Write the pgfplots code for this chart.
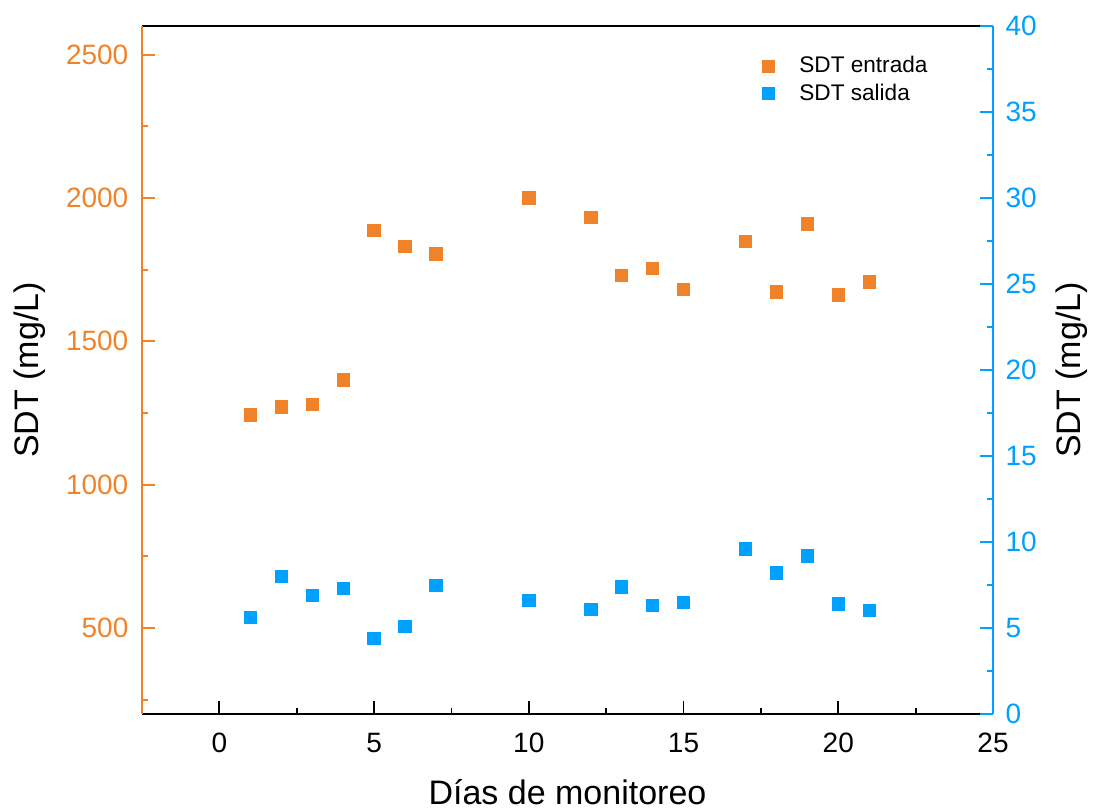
\documentclass[border=0pt]{standalone}
\usepackage{fontspec}
\setmainfont{Liberation Sans}
\usepackage{pgfplots}
\usepackage{pgfplotstable}
\pgfplotsset{compat=1.18}
\definecolor{sdtin}{RGB}{240,131,42}
\definecolor{sdtout}{RGB}{0,160,255}

% dia, SDT entrada (mg/L), SDT salida (mg/L)
\pgfplotstableread{
dia entrada salida
1  1244 5.60
2  1272 8.01
3  1281 6.88
4  1366 7.29
5  1888 4.38
6  1832 5.09
7  1805 7.49
10 2000 6.61
12 1933 6.09
13 1729 7.39
14 1755 6.30
15 1682 6.49
17 1848 9.61
18 1673 8.21
19 1909 9.20
20 1662 6.40
21 1707 6.01
}\sdtdata

\pgfplotsset{
  sdtaxis/.style={
    width=425.5pt, height=344pt, scale only axis,
    xmin=-2.5, xmax=25,
    /pgf/number format/assume math mode=true,
    /pgf/number format/1000 sep={},
    scaled y ticks=false,
    tick label style={font=\fontsize{14}{16}\selectfont},
    label style={font=\fontsize{17}{20}\selectfont},
    tick align=inside,
    major tick length=6.5pt, minor tick length=3.2pt,
  },
}

\begin{document}
\begin{tikzpicture}
\begin{axis}[
  sdtaxis,
  axis x line*=box, axis y line*=left,
  xtick pos=bottom,
  xtick={0,5,...,25}, minor xtick={2.5,7.5,...,22.5},
  ymin=200, ymax=2600,
  ytick={500,1000,...,2500}, minor ytick={250,750,...,2250},
  x axis line style={black, line width=1.1pt},
  y axis line style={sdtin, line width=1.1pt},
  xtick style={black, line width=0.9pt},
  ytick style={sdtin, line width=0.9pt},
  yticklabel style={sdtin, xshift=-3.3pt},
  xticklabel style={anchor=base, yshift=-19pt},
  xlabel={Días de monitoreo},
  xlabel style={at={(axis description cs:0.5,-0.1310)}, anchor=base},
  ylabel={SDT (mg/L)},
  ylabel style={at={(axis description cs:-0.1316,0.5)}, anchor=center},
]
\addplot[only marks, mark=square*, color=sdtin, mark size=3.1pt] table[x=dia, y=entrada] {\sdtdata};
\end{axis}

\begin{axis}[
  sdtaxis,
  axis x line=none, axis y line*=right,
  ymin=0, ymax=40,
  ytick={0,5,...,40}, minor ytick={2.5,7.5,...,37.5},
  y axis line style={sdtout, line width=1.1pt},
  ytick style={sdtout, line width=0.9pt},
  yticklabel style={sdtout, xshift=2.8pt},
  ylabel={SDT (mg/L)},
  ylabel style={at={(axis description cs:1.092,0.5)}, anchor=center},
  legend style={at={(axis description cs:0.721,0.968)}, anchor=north west,
    draw=none, fill=none, font=\fontsize{11.3}{13}\selectfont,
    /tikz/every odd column/.append style={column sep=10.5pt}},
  legend cell align=left,
]
\addlegendimage{only marks, mark=square*, color=sdtin, mark size=3.1pt}
\addlegendentry{SDT entrada}
\addplot[only marks, mark=square*, color=sdtout, mark size=3.1pt] table[x=dia, y=salida] {\sdtdata};
\addlegendentry{SDT salida}
\end{axis}
\pgfresetboundingbox
\path (-71pt,-48.5pt) rectangle (475.5pt,357pt);
\end{tikzpicture}
\end{document}
